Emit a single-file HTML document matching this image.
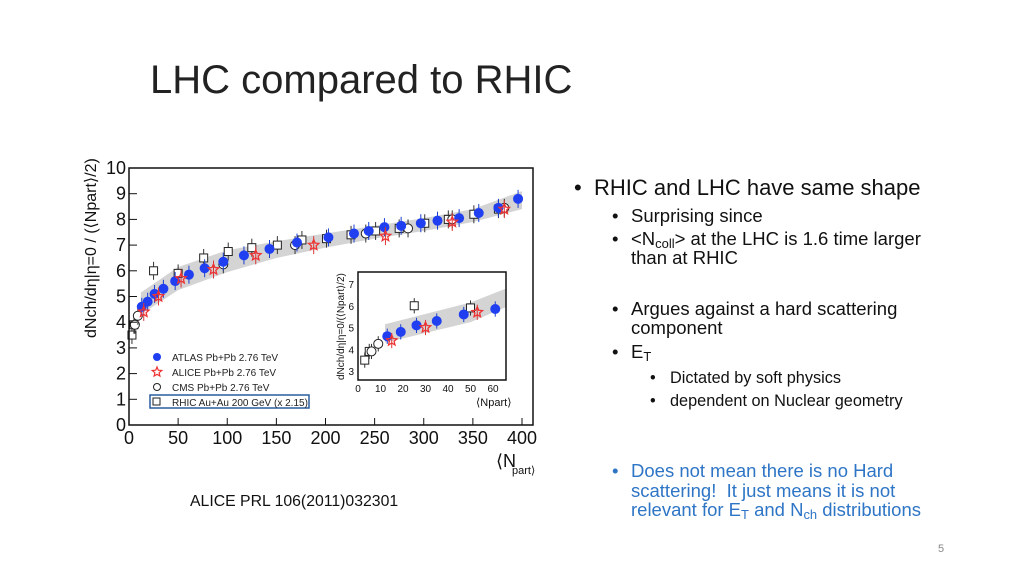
<!DOCTYPE html>
<html><head><meta charset="utf-8"><style>
body{margin:0;width:1024px;height:576px;background:#fff;position:relative;overflow:hidden;font-family:"Liberation Sans",sans-serif;}
.t{position:absolute;white-space:nowrap;color:#111;}
.t .bu{position:absolute;left:0;top:0}
sub{font-size:70%;vertical-align:-0.25em;line-height:0}
</style></head><body>
<div class="t" style="left:150px;top:58px;font-size:40px;color:#222">LHC compared to RHIC</div>

<div class="t" style="left:574px;top:175px;font-size:22px;padding-left:20px"><span class="bu">•</span>RHIC and LHC have same shape</div>
<div class="t" style="left:612px;top:205px;font-size:18.5px;padding-left:19px"><span class="bu">•</span>Surprising since</div>
<div class="t" style="left:612px;top:229px;font-size:18.5px;line-height:19px;padding-left:19px"><span class="bu">•</span>&lt;N<sub>coll</sub>&gt; at the LHC is 1.6 time larger<br>than at RHIC</div>
<div class="t" style="left:612px;top:299px;font-size:18.5px;line-height:19px;padding-left:19px"><span class="bu">•</span>Argues against a hard scattering<br>component</div>
<div class="t" style="left:612px;top:341px;font-size:18.5px;padding-left:19px"><span class="bu">•</span>E<sub>T</sub></div>
<div class="t" style="left:650px;top:369px;font-size:16.3px;padding-left:20px"><span class="bu">•</span>Dictated by soft physics</div>
<div class="t" style="left:650px;top:392px;font-size:16.3px;padding-left:20px"><span class="bu">•</span>dependent on Nuclear geometry</div>
<div class="t" style="left:612px;top:461px;font-size:18.5px;line-height:19.5px;color:#2e75c6;padding-left:19px"><span class="bu">•</span>Does not mean there is no Hard<br>scattering!&nbsp; It just means it is not<br>relevant for E<sub>T</sub> and N<sub>ch</sub> distributions</div>
<div class="t" style="left:190px;top:493px;font-size:15.8px">ALICE PRL 106(2011)032301</div>
<div class="t" style="left:938px;top:543px;font-size:11px;color:#888">5</div>

<svg id="chart" width="1024" height="576" style="position:absolute;left:0;top:0" xmlns="http://www.w3.org/2000/svg"></svg>
<script>
const atlasX=[13,19,26,35,47,61,77,96,117,143,171,203,229,244,260,277,297,314,336,356,376,396];
const atlasY=[4.6,4.8,5.1,5.3,5.6,5.85,6.1,6.35,6.6,6.85,7.1,7.3,7.45,7.55,7.7,7.75,7.85,7.95,8.05,8.25,8.45,8.8];
const aliceX=[15,30,53,86,129,188,261,329,382];
const aliceY=[4.4,5.0,5.7,6.05,6.6,7.0,7.35,7.9,8.4];
const cmsX=[6,9,96,169,241,284,329,382];
const cmsY=[3.9,4.25,6.25,7.0,7.45,7.65,8.0,8.45];
const rhicX=[3,5,25,50,76,101,125,151,176,201,226,251,275,301,325,351,376];
const rhicY=[3.5,3.9,6.0,5.9,6.5,6.75,6.9,7.0,7.2,7.25,7.4,7.55,7.65,7.85,8.0,8.2,8.4];
const bandX=[12,50,100,150,200,250,300,350,400];
const bandLo=[4.3,5.25,5.95,6.5,6.9,7.25,7.55,7.9,8.4];
const bandHi=[5.15,6.15,6.8,7.15,7.45,7.75,8.05,8.4,9.1];
const xTicks=[0,50,100,150,200,250,300,350,400];
const yTicks=[0,1,2,3,4,5,6,7,8,9,10];
const inX=[0,10,20,30,40,50,60];
const inY=[3,4,5,6,7];

const svg=document.getElementById('chart');
const NS='http://www.w3.org/2000/svg';
function mk(tag,attrs,parent){const e=document.createElementNS(NS,tag);for(const k in attrs)e.setAttribute(k,attrs[k]);(parent||svg).appendChild(e);return e;}
const X=v=>129+v*(522-129)/400;
const Y=v=>425-v*(425-168)/10;
const IX=v=>358+v*(493-358)/60;
const IY=v=>371-(v-3)*(371-284)/4;
function starPts(cx,cy,R){let p=[];for(let k=0;k<10;k++){const r=k%2?R*0.45:R;const a=-Math.PI/2+k*Math.PI/5;p.push((cx+r*Math.cos(a)).toFixed(1)+','+(cy+r*Math.sin(a)).toFixed(1));}return p.join(' ');}

function drawPanel(g,xf,yf,x0,x1,y0,y1,xmax){
  let p='';
  bandX.forEach((x,i)=>{if(x<=xmax+40)p+=(p?'L':'M')+xf(Math.min(x,xmax+4))+','+yf(bandHi[i]);});
  for(let i=bandX.length-1;i>=0;i--){if(bandX[i]<=xmax+40)p+='L'+xf(Math.min(bandX[i],xmax+4))+','+yf(bandLo[i]);}
  const band=mk('path',{d:p+'Z',fill:'#d4d4d4'},g);
  
  
  function err(x,y,c){mk('line',{x1:xf(x),x2:xf(x),y1:yf(y-0.35),y2:yf(y+0.35),stroke:c,'stroke-width':1},g);}
  rhicX.forEach((x,i)=>{if(x>xmax)return;err(x,rhicY[i],'#333');const r=mk('rect',{x:xf(x)-4,y:yf(rhicY[i])-4,width:8,height:8,fill:'#fff',stroke:'#222','stroke-width':1},g);
    
    });
  cmsX.forEach((x,i)=>{if(x>xmax)return;err(x,cmsY[i],'#333');const c=mk('circle',{cx:xf(x),cy:yf(cmsY[i]),r:4.5,fill:'#fff',stroke:'#222'},g);
    
    });
  atlasX.forEach((x,i)=>{if(x>xmax)return;err(x,atlasY[i],'#1a3fd0');const c=mk('circle',{cx:xf(x),cy:yf(atlasY[i]),r:5,fill:'#1f3ff0'},g);
    
    });
  aliceX.forEach((x,i)=>{if(x>xmax)return;err(x,aliceY[i],'#d33');const t=mk('polygon',{points:starPts(xf(x),yf(aliceY[i]),5.5),fill:'none',stroke:'#e33','stroke-width':1.3},g);
    
    });
  mk('rect',{x:x0,y:y1,width:x1-x0,height:y0-y1,fill:'none',stroke:'#111','stroke-width':1.5},g);
}
const main=mk('g',{});


mk('rect',{x:129,y:168,width:404,height:257,fill:'#fff'},main);
drawPanel(main,X,Y,129,533,425,168,400);
xTicks.forEach(v=>{mk('line',{x1:X(v),x2:X(v),y1:425,y2:418,stroke:'#111'},main);const t=mk('text',{x:X(v),y:444,'text-anchor':'middle','font-size':18,fill:'#111'},main);t.textContent=v;
  
  });
yTicks.forEach(v=>{mk('line',{x1:129,x2:137,y1:Y(v),y2:Y(v),stroke:'#111'},main);const t=mk('text',{x:126,y:Y(v)+6,'text-anchor':'end','font-size':18,fill:'#111'},main);t.textContent=v;
  
  });
const xt=mk('text',{x:496,y:467,'font-size':18,fill:'#111'},main);xt.textContent='⟨N';


const xs=mk('text',{x:512,y:474,'font-size':11,fill:'#111'},main);xs.textContent='part⟩';
const yt=mk('text',{x:0,y:0,'font-size':16,fill:'#111',transform:'translate(96,338) rotate(-90)'},main);yt.textContent='dNch/dη|η=0 / (⟨Npart⟩/2)';


const leg=mk('g',{});


const legItems=[['ATLAS Pb+Pb 2.76 TeV','atlas'],['ALICE Pb+Pb 2.76 TeV','alice'],['CMS Pb+Pb 2.76 TeV','cms'],['RHIC Au+Au 200 GeV (x 2.15)','rhic']];
legItems.forEach((it,i)=>{const y=357+i*15;
  if(it[1]=='atlas')mk('circle',{cx:157,cy:y,r:4,fill:'#1f3ff0'},leg);
  if(it[1]=='alice')mk('polygon',{points:starPts(157,y,5),fill:'none',stroke:'#e33','stroke-width':1.2},leg);
  if(it[1]=='cms')mk('circle',{cx:157,cy:y,r:3.5,fill:'#fff',stroke:'#222'},leg);
  if(it[1]=='rhic'){mk('rect',{x:153,y:y-4,width:7,height:7,fill:'#fff',stroke:'#222'},leg);mk('rect',{x:150,y:y-7,width:159,height:13,fill:'none',stroke:'#2a5d9f','stroke-width':1.5},leg);}
  const t=mk('text',{x:172,y:y+4,'font-size':10,fill:'#222'},leg);t.textContent=it[0];
  
  });
const ins=mk('g',{});


mk('rect',{x:358,y:272,width:148,height:108,fill:'#fff'},ins);
drawPanel(ins,IX,IY,358,506,380,272,62);
inX.forEach(v=>{const t=mk('text',{x:IX(v),y:392,'text-anchor':'middle','font-size':10,fill:'#111'},ins);t.textContent=v;
  
  });
inY.forEach(v=>{const t=mk('text',{x:354,y:IY(v)+4,'text-anchor':'end','font-size':10,fill:'#111'},ins);t.textContent=v;
  
  });
const it1=mk('text',{x:476,y:406,'font-size':11,fill:'#111'},ins);it1.textContent='⟨Npart⟩';
const it2=mk('text',{x:0,y:0,'font-size':10,fill:'#111',transform:'translate(344,380) rotate(-90)'},ins);it2.textContent='dNch/dη|η=0/(⟨Npart⟩/2)';
</script>
</body></html>
